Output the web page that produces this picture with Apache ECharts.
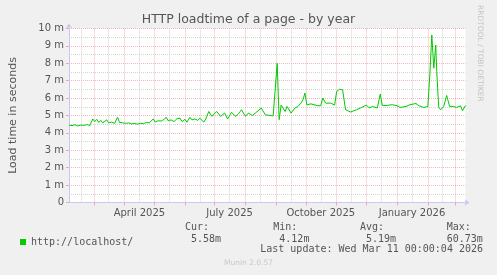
<!DOCTYPE html>
<html>
<head>
<meta charset="utf-8">
<script src="https://cdn.jsdelivr.net/npm/echarts@6/dist/echarts.min.js"></script>
<style>
  html, body { margin: 0; padding: 0; background: #f0f0f0; }
  #chart { width: 497px; height: 275px; }
</style>
</head>
<body>
<div id="chart"></div>
<script>
// ---- data ----
const xStart = '2025-02-04';
const xEnd = '2026-03-11';
const monthStarts = ['2025-03-01','2025-04-01','2025-05-01','2025-06-01','2025-07-01','2025-08-01',
  '2025-09-01','2025-10-01','2025-11-01','2025-12-01','2026-01-01','2026-02-01','2026-03-01'];
const midMonths = ['2025-02-16','2025-03-16','2025-04-16','2025-05-16','2025-06-16','2025-07-16',
  '2025-08-16','2025-09-16','2025-10-16','2025-11-16','2025-12-16','2026-01-16','2026-02-16'];
const labelDates = ['2025-04-16','2025-07-16','2025-10-16','2026-01-16'];
const labelTexts = ['April 2025','July 2025','October 2025','January 2026'];
const yTicks = [0,1,2,3,4,5,6,7,8,9,10];
const yTickLabels = ['0','1 m','2 m','3 m','4 m','5 m','6 m','7 m','8 m','9 m','10 m'];

const dates = [
  '2025-02-04','2025-02-07','2025-02-10','2025-02-13','2025-02-16','2025-02-19','2025-02-22','2025-02-25',
  '2025-02-28','2025-03-02','2025-03-04','2025-03-06','2025-03-08','2025-03-10','2025-03-12','2025-03-14',
  '2025-03-16','2025-03-19','2025-03-22','2025-03-25','2025-03-27','2025-03-30','2025-04-02','2025-04-05',
  '2025-04-08','2025-04-11','2025-04-14','2025-04-17','2025-04-20','2025-04-23','2025-04-26','2025-04-30',
  '2025-05-02','2025-05-05','2025-05-08','2025-05-11','2025-05-13','2025-05-15','2025-05-18','2025-05-21',
  '2025-05-24','2025-05-27','2025-05-29','2025-06-01','2025-06-03','2025-06-06','2025-06-08','2025-06-11',
  '2025-06-14','2025-06-16','2025-06-18','2025-06-20','2025-06-22','2025-06-25','2025-06-28','2025-07-03',
  '2025-07-07','2025-07-11','2025-07-14','2025-07-18','2025-07-22','2025-07-25','2025-07-28','2025-08-01',
  '2025-08-04','2025-08-08','2025-08-11','2025-08-17','2025-08-21','2025-08-29','2025-08-31','2025-09-02',
  '2025-09-04','2025-09-06','2025-09-10','2025-09-12','2025-09-16','2025-09-20','2025-09-23','2025-09-26',
  '2025-09-28','2025-09-30','2025-10-02','2025-10-06','2025-10-13','2025-10-16','2025-10-18','2025-10-21',
  '2025-10-26','2025-10-30','2025-11-01','2025-11-04','2025-11-07','2025-11-10','2025-11-12','2025-11-15',
  '2025-11-21','2025-11-25','2025-12-01','2025-12-04','2025-12-07','2025-12-12','2025-12-15','2025-12-17',
  '2025-12-22','2025-12-27','2026-01-01','2026-01-04','2026-01-10','2026-01-14','2026-01-20','2026-01-23',
  '2026-01-28','2026-02-01','2026-02-03','2026-02-05','2026-02-07','2026-02-09','2026-02-10','2026-02-12',
  '2026-02-14','2026-02-17','2026-02-20','2026-02-23','2026-02-27','2026-03-02','2026-03-06','2026-03-08',
  '2026-03-11'
];
const loadtime = [
  4.45,4.42,4.47,4.40,4.45,4.43,4.48,4.42,
  4.80,4.65,4.78,4.60,4.72,4.58,4.62,4.75,
  4.58,4.62,4.55,4.90,4.60,4.58,4.55,4.57,
  4.52,4.55,4.50,4.55,4.53,4.60,4.58,4.80,
  4.62,4.70,4.68,4.78,4.90,4.70,4.75,4.65,
  4.82,4.85,4.65,4.78,4.62,4.90,4.75,4.80,
  4.72,4.85,4.95,4.62,4.80,5.23,4.95,5.23,
  4.95,5.14,4.80,5.18,4.95,5.10,5.33,4.95,
  5.14,5.00,5.14,5.43,5.04,4.98,4.95,8.00,
  4.76,5.60,5.23,5.52,5.14,5.43,5.52,5.71,
  5.90,6.29,5.60,5.67,5.56,5.56,6.00,5.71,
  5.71,5.60,6.38,6.51,6.48,5.33,5.39,5.20,
  5.33,5.43,5.60,5.43,5.52,5.43,6.23,5.58,
  5.58,5.62,5.56,5.46,5.52,5.62,5.69,5.56,
  5.46,5.52,7.33,9.63,7.72,9.05,7.52,5.46,
  5.33,5.52,6.15,5.52,5.52,5.46,5.56,5.27,
  5.58
];

const legendName = 'http://localhost/';
const statHeads = ['Cur:','Min:','Avg:','Max:'];
const statValues = ['5.58m','4.12m','5.19m','60.73m'];
const lastUpdate = 'Last update: Wed Mar 11 00:00:04 2026';

// ---- helpers ----
const ts = s => echarts.number.parseDate(s).getTime();

// ---- style ----
const MAJOR = 'rgba(228,80,80,0.42)';
const MINOR = '#d4d4d4';
const AXIS = '#c8c8f4';
const TXT = '#555555';
const MONO = "'DejaVu Sans Mono', monospace";
const SANS = "'DejaVu Sans', sans-serif";

const chart = echarts.init(document.getElementById('chart'), null, { renderer: 'canvas' });

const statX = [[185, 191], [273.3, 279.3], [360, 366], [446.7, 446.7]];
const graphics = [];
statHeads.forEach((h, i) => {
  graphics.push({ type: 'text', left: statX[i][0], top: 222,
    style: { text: h, font: '10px ' + MONO, fill: TXT } });
  graphics.push({ type: 'text', left: statX[i][1], top: 234,
    style: { text: statValues[i], font: '10px ' + MONO, fill: TXT } });
});
graphics.push({ type: 'text', right: 14, top: 244.5,
  style: { text: lastUpdate, font: '10px ' + MONO, fill: TXT } });
graphics.push({ type: 'text', left: 'center', top: 259.5,
  style: { text: 'Munin 2.0.57', font: '7.5px ' + SANS, fill: '#c8c8c8' } });
graphics.push({ type: 'text', x: 484, y: 5, rotation: -Math.PI / 2,
  style: { text: 'RRDTOOL / TOBI OETIKER', font: '7.5px ' + SANS, fill: '#c4c4c4' } });

const labelTs = labelDates.map(ts);

chart.setOption({
  animation: false,
  backgroundColor: '#f0f0f0',
  title: {
    text: 'HTTP loadtime of a page - by year',
    left: 'center', top: 8,
    textStyle: { fontFamily: SANS, fontSize: 12.5, fontWeight: 'normal', color: TXT }
  },
  legend: {
    data: [legendName],
    left: 15, top: 232,
    icon: 'rect', itemWidth: 6, itemHeight: 6,
    textStyle: { fontFamily: MONO, fontSize: 10, color: TXT },
    selectedMode: false
  },
  grid: {
    left: 65.5, top: 28.5, width: 400, height: 174,
    show: true, backgroundColor: '#ffffff', borderWidth: 0
  },
  xAxis: [
    {
      type: 'value', min: ts(xStart), max: ts(xEnd), scale: true,
      axisLine: { show: true, lineStyle: { color: AXIS, width: 1 },
        symbol: ['none', 'arrow'], symbolSize: [5, 5], symbolOffset: [0, 4] },
      axisTick: { show: true, length: 3, customValues: monthStarts.map(ts),
        lineStyle: { color: MAJOR } },
      axisLabel: {
        customValues: labelTs, color: TXT, fontFamily: SANS, fontSize: 10, margin: 6,
        hideOverlap: false,
        formatter: function (v) {
          for (let i = 0; i < labelTs.length; i++) {
            if (Math.abs(labelTs[i] - v) < 86400000) return labelTexts[i];
          }
          return '';
        }
      },
      splitLine: { show: true, lineStyle: { color: MAJOR, type: [1, 1], width: 1 } }
    },
    {
      type: 'value', min: ts(xStart), max: ts(xEnd), scale: true, position: 'bottom',
      axisLine: { show: false }, axisLabel: { show: false },
      axisTick: { show: false, customValues: midMonths.map(ts) },
      splitLine: { show: true, lineStyle: { color: MINOR, type: [1, 1], width: 1 } }
    }
  ],
  yAxis: {
    type: 'value', min: 0, max: 10, interval: 1,
    name: 'Load time in seconds', nameLocation: 'middle', nameRotate: 90, nameGap: 50,
    nameTextStyle: { fontFamily: SANS, fontSize: 11, color: TXT },
    axisLine: { show: true, lineStyle: { color: AXIS, width: 1 },
      symbol: ['none', 'arrow'], symbolSize: [5, 5], symbolOffset: [0, 5] },
    axisTick: { show: true, length: 3, lineStyle: { color: MAJOR } },
    axisLabel: {
      color: TXT, fontFamily: SANS, fontSize: 10, margin: 5,
      formatter: function (v) { const i = yTicks.indexOf(v); return i >= 0 ? yTickLabels[i] : ''; }
    },
    splitLine: { show: true, lineStyle: { color: MAJOR, type: [1, 1], width: 1 } },
    minorTick: { show: false, splitNumber: 2 },
    minorSplitLine: { show: true, lineStyle: { color: MINOR, type: [1, 1], width: 1 } }
  },
  series: [{
    name: legendName,
    type: 'line',
    xAxisIndex: 0,
    data: dates.map((d, i) => [ts(d), loadtime[i]]),
    showSymbol: false,
    symbol: 'none',
    lineStyle: { color: '#00cc00', width: 1 },
    itemStyle: { color: '#00cc00' },
    z: 5
  }],
  graphic: graphics
});
</script>
</body>
</html>
